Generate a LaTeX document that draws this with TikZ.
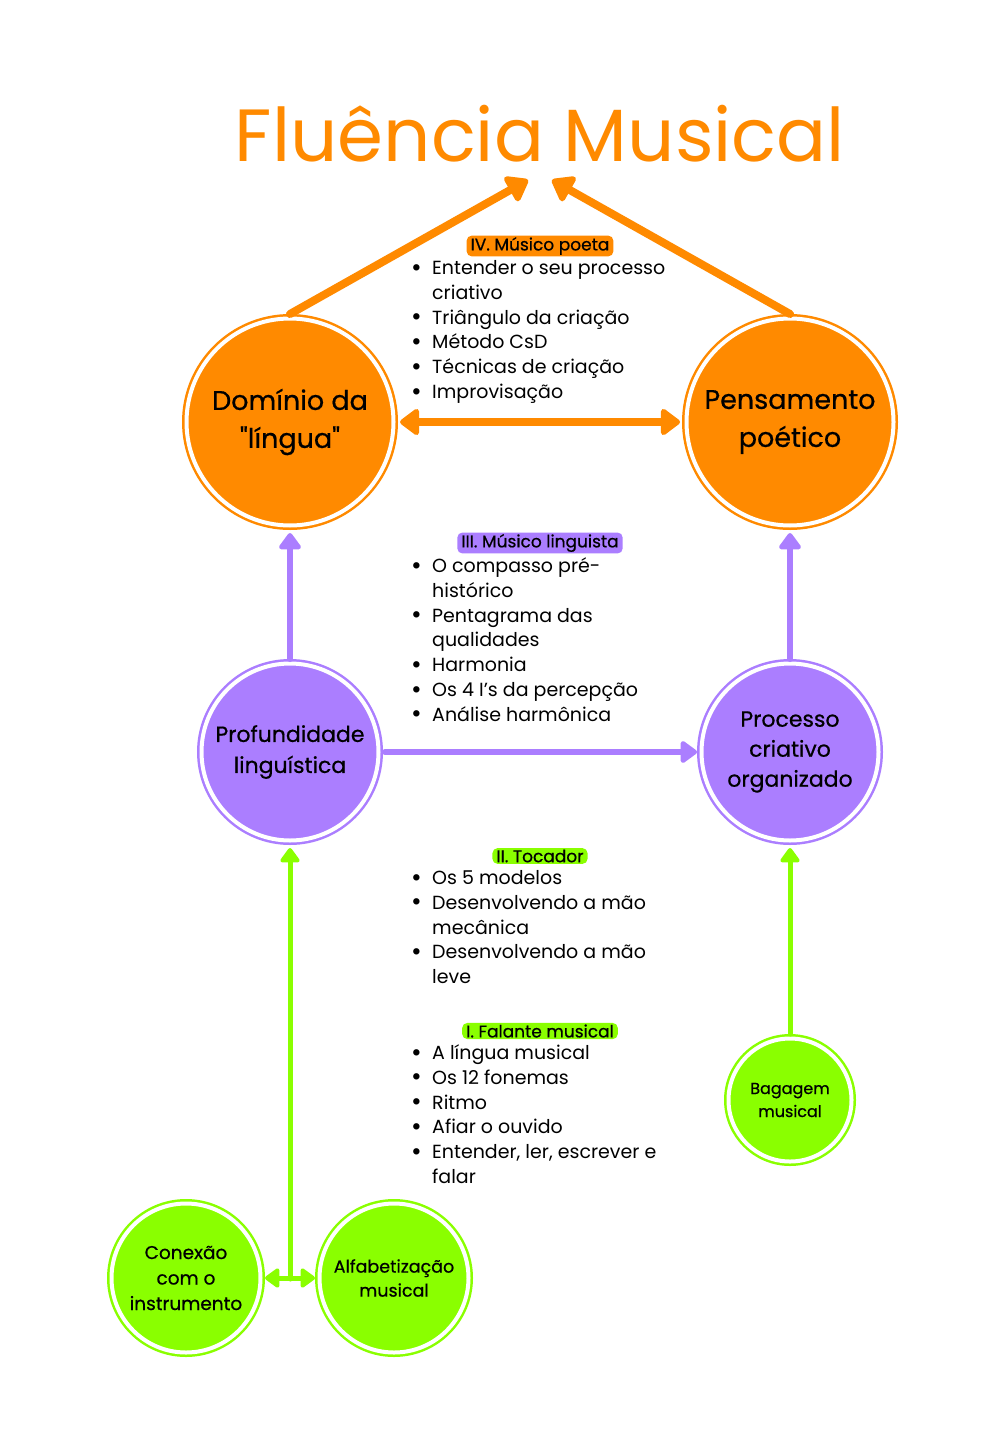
\documentclass[tikz,border=0pt]{standalone}
\usepackage{fontspec}
\setmainfont{Poppins}
\newfontfamily\medfont[FakeBold=0.6]{Poppins}
\usetikzlibrary{arrows.meta}
\definecolor{fluorange}{HTML}{FF8A00}
\definecolor{flupurple}{HTML}{AB7EFF}
\definecolor{flugreen}{HTML}{8AFF00}
\newcommand\dotitem{\makebox[21pt][l]{\raisebox{-1.5pt}{\fontsize{26}{0}\selectfont\textbullet}}}
\tikzset{
  ring/.style={circle, fill=#1, draw=#1, double=white, double distance=4pt, line width=2.5pt, outer sep=4.5pt, inner sep=0pt, align=center},
  stagebox/.style={fill=#1, rounded corners=5pt, inner xsep=4pt, inner ysep=1.5pt, font=\medfont\fontsize{17}{17}\selectfont},
  pointlist/.style={anchor=north west, inner sep=0pt, font=\fontsize{19}{24.8}\selectfont},
  orangearrow/.style={fluorange, line width=8pt, line cap=round, -{Triangle[round,width=32pt,length=23pt]}},
  purplearrow/.style={flupurple, line width=6pt, line cap=round, -{Triangle[round,width=25pt,length=18pt]}},
  greenarrow/.style={flugreen, line width=5pt, line cap=round, -{Triangle[round,width=22pt,length=16pt]}},
}
\begin{document}
\begin{tikzpicture}[x=1pt,y=-1pt]
\fill[white] (0,0) rectangle (1000,1450);
\useasboundingbox (0,0) rectangle (1000,1450);
\node[fluorange, anchor=base, font=\fontsize{74}{74}\selectfont] (title) at (540,162) {Fluência Musical};
\node[ring=fluorange, minimum size=207pt, font=\medfont\fontsize{27}{38}\selectfont] (dominio) at (290,422) {Domínio da\\\textquotedbl língua\textquotedbl};
\node[ring=fluorange, minimum size=207pt, font=\medfont\fontsize{27}{38}\selectfont] (pensamento) at (790,422) {Pensamento\\poético};
\node[ring=flupurple, minimum size=177pt, font=\medfont\fontsize{22}{31}\selectfont] (profundidade) at (290,752) {Profundidade\\linguística};
\node[ring=flupurple, minimum size=177pt, font=\medfont\fontsize{22}{30}\selectfont] (processo) at (790,752) {Processo\\criativo\\organizado};
\node[ring=flugreen, minimum size=123pt, font=\medfont\fontsize{16}{23}\selectfont] (bagagem) at (790,1100) {Bagagem\\musical};
\node[ring=flugreen, minimum size=149pt, font=\medfont\fontsize{18.5}{25.5}\selectfont] (conexao) at (186,1278) {Conexão\\com o\\instrumento};
\node[ring=flugreen, minimum size=149pt, font=\medfont\fontsize{17.5}{24}\selectfont] (alfabetizacao) at (394,1278) {Alfabetização\\musical};
\coordinate (apexL) at (528,180);
\coordinate (apexR) at (552,180);
\coordinate (fork) at (290,1279);
\draw[orangearrow] (dominio.north) -- (apexL);
\draw[orangearrow] (pensamento.north) -- (apexR);
\draw[orangearrow, {Triangle[round,width=30pt,length=21pt]}-{Triangle[round,width=30pt,length=21pt]}, shorten <=2pt, shorten >=2pt] (dominio.east) -- (pensamento.west);
\draw[purplearrow, shorten >=3pt] (profundidade.north) -- (dominio.south);
\draw[purplearrow, shorten >=3pt] (processo.north) -- (pensamento.south);
\draw[purplearrow, shorten <=2pt] (profundidade.east) -- (processo.west);
\draw[greenarrow, shorten >=3pt] (bagagem.north) -- (processo.south);
\draw[greenarrow, shorten >=3pt] (fork) -- (profundidade.south);
\draw[greenarrow, {Triangle[round,width=22pt,length=16pt]}-{Triangle[round,width=22pt,length=16pt]}] (conexao.east) -- (alfabetizacao.west);
\node[stagebox=fluorange] (poeta) at (540,246) {IV. Músico poeta};
\node[stagebox=flupurple] (linguista) at (540,543) {III. Músico linguista};
\node[stagebox=flugreen] (tocador) at (540,856) {II. Tocador};
\node[stagebox=flugreen] (falante) at (540,1031) {I. Falante musical};
\node[pointlist] (poetalist) at (411,257) {\begin{tabular}{@{}l@{}l@{}}
\dotitem & Entender o seu processo\\
 & criativo\\
\dotitem & Triângulo da criação\\
\dotitem & Método CsD\\
\dotitem & Técnicas de criação\\
\dotitem & Improvisação
\end{tabular}};
\node[pointlist] (linguistalist) at (411,555) {\begin{tabular}{@{}l@{}l@{}}
\dotitem & O compasso pré-\\
 & histórico\\
\dotitem & Pentagrama das\\
 & qualidades\\
\dotitem & Harmonia\\
\dotitem & Os 4 I's da percepção\\
\dotitem & Análise harmônica
\end{tabular}};
\node[pointlist] (tocadorlist) at (411,867) {\begin{tabular}{@{}l@{}l@{}}
\dotitem & Os 5 modelos\\
\dotitem & Desenvolvendo a mão\\
 & mecânica\\
\dotitem & Desenvolvendo a mão\\
 & leve
\end{tabular}};
\node[pointlist] (falantelist) at (411,1042) {\begin{tabular}{@{}l@{}l@{}}
\dotitem & A língua musical\\
\dotitem & Os 12 fonemas\\
\dotitem & Ritmo\\
\dotitem & Afiar o ouvido\\
\dotitem & Entender, ler, escrever e\\
 & falar
\end{tabular}};
\end{tikzpicture}
\end{document}
